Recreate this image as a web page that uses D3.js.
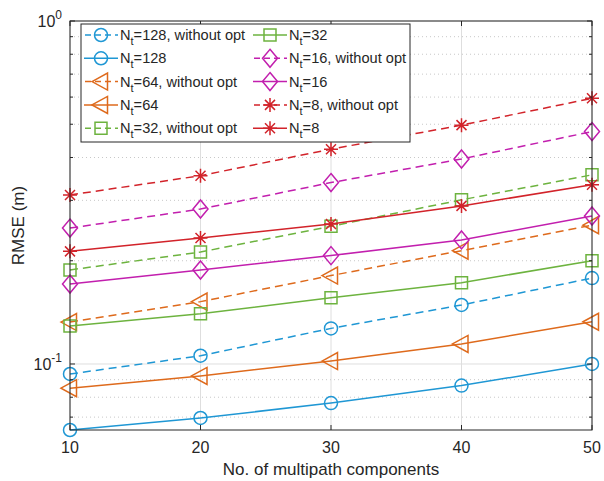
<!DOCTYPE html>
<html lang="en">
  <head>
    <meta charset="utf-8" />
    <title>RMSE vs multipath components</title>
    <script src="https://cdnjs.cloudflare.com/ajax/libs/d3/7.8.5/d3.min.js"></script>
    <style>
      body { margin: 0; background: #fff; }
      text { font-family: "Liberation Sans", Arial, Helvetica, sans-serif; fill: #262626; }
    </style>
  </head>
  <body>
    <script>
      const width = 604;
      const height = 481;
      const marginTop = 21;
      const marginRight = 12;
      const marginBottom = 51;
      const marginLeft = 70;

      // data
      const components = [10, 20, 30, 40, 50];
      const nt128NoOpt = [0.0935, 0.1057, 0.127, 0.1486, 0.178];
      const nt128 = [0.0642, 0.0696, 0.0769, 0.0865, 0.100];
      const nt64NoOpt = [0.1325, 0.152, 0.181, 0.214, 0.254];
      const nt64 = [0.085, 0.0923, 0.102, 0.1144, 0.1328];
      const nt32NoOpt = [0.188, 0.212, 0.252, 0.301, 0.356];
      const nt32 = [0.129, 0.140, 0.156, 0.1726, 0.200];
      const nt16NoOpt = [0.249, 0.283, 0.338, 0.396, 0.476];
      const nt16 = [0.171, 0.188, 0.207, 0.230, 0.270];
      const nt8NoOpt = [0.311, 0.354, 0.423, 0.497, 0.595];
      const nt8 = [0.213, 0.233, 0.256, 0.289, 0.333];

      const xTicks = [10, 20, 30, 40, 50];
      const yMajor = [0.1, 1];
      const yMinor = [0.07, 0.08, 0.09, 0.2, 0.3, 0.4, 0.5, 0.6, 0.7, 0.8, 0.9];

      const blue = "#1f97d4", orange = "#de6a1c", green = "#6db33f", magenta = "#c21fae", red = "#d2232a";

      const series = [
        { n: "128", opt: false, values: nt128NoOpt, color: blue, marker: "circle" },
        { n: "128", opt: true, values: nt128, color: blue, marker: "circle" },
        { n: "64", opt: false, values: nt64NoOpt, color: orange, marker: "triangle" },
        { n: "64", opt: true, values: nt64, color: orange, marker: "triangle" },
        { n: "32", opt: false, values: nt32NoOpt, color: green, marker: "square" },
        { n: "32", opt: true, values: nt32, color: green, marker: "square" },
        { n: "16", opt: false, values: nt16NoOpt, color: magenta, marker: "diamond" },
        { n: "16", opt: true, values: nt16, color: magenta, marker: "diamond" },
        { n: "8", opt: false, values: nt8NoOpt, color: red, marker: "star" },
        { n: "8", opt: true, values: nt8, color: red, marker: "star" }
      ];

      const x = d3.scaleLinear([10, 50], [marginLeft, width - marginRight]);
      const y = d3.scaleLog([0.0642, 1], [height - marginBottom, marginTop]);

      const svg = d3.select("body").append("svg")
        .attr("width", width)
        .attr("height", height)
        .attr("viewBox", [0, 0, width, height]);

      const x0 = marginLeft, x1 = width - marginRight, y0 = height - marginBottom, y1 = marginTop;

      // grid
      const grid = svg.append("g");
      grid.selectAll(".vg").data(xTicks).join("line")
        .attr("x1", d => x(d)).attr("x2", d => x(d))
        .attr("y1", y0).attr("y2", y1)
        .attr("stroke", "#dedede").attr("stroke-width", 1);
      grid.selectAll(".hg").data(yMajor).join("line")
        .attr("x1", x0).attr("x2", x1)
        .attr("y1", d => y(d)).attr("y2", d => y(d))
        .attr("stroke", "#dedede").attr("stroke-width", 1);
      grid.selectAll(".hm").data(yMinor).join("line")
        .attr("x1", x0).attr("x2", x1)
        .attr("y1", d => y(d)).attr("y2", d => y(d))
        .attr("stroke", "#c8c8c8").attr("stroke-width", 1)
        .attr("stroke-dasharray", "1,3");

      // marker shapes, centred on 0,0
      function markerPath(type) {
        switch (type) {
          case "circle": return "M6.5,0A6.5,6.5 0 1,1 -6.5,0A6.5,6.5 0 1,1 6.5,0Z";
          case "triangle": return "M-9,0L6.5,-8.5L6.5,8.5Z";
          case "square": return "M-6,-6H6V6H-6Z";
          case "diamond": return "M0,-9L7.5,0L0,9L-7.5,0Z";
          case "star": return "M-7,0H7M0,-7V7M-5,-5L5,5M-5,5L5,-5";
        }
      }

      const line = d3.line().x((d, i) => x(components[i])).y(d => y(d));

      const plot = svg.append("g");
      series.forEach(s => {
        plot.append("path")
          .attr("d", line(s.values))
          .attr("fill", "none")
          .attr("stroke", s.color)
          .attr("stroke-width", 1.5)
          .attr("stroke-dasharray", s.opt ? null : "8,5");
        plot.selectAll(null).data(s.values).join("path")
          .attr("transform", (d, i) => `translate(${x(components[i])},${y(d)})`)
          .attr("d", markerPath(s.marker))
          .attr("fill", "none")
          .attr("stroke", s.color)
          .attr("stroke-width", 1.5);
      });

      // frame and ticks
      const axes = svg.append("g").attr("stroke", "#262626").attr("stroke-width", 1);
      axes.append("rect")
        .attr("x", x0).attr("y", y1)
        .attr("width", x1 - x0).attr("height", y0 - y1)
        .attr("fill", "none");
      xTicks.forEach(t => {
        axes.append("line").attr("x1", x(t)).attr("x2", x(t)).attr("y1", y0).attr("y2", y0 - 5);
        axes.append("line").attr("x1", x(t)).attr("x2", x(t)).attr("y1", y1).attr("y2", y1 + 5);
      });
      yMajor.concat(yMinor).forEach(t => {
        const len = yMajor.includes(t) ? 5 : 3;
        axes.append("line").attr("x1", x0).attr("x2", x0 + len).attr("y1", y(t)).attr("y2", y(t));
        axes.append("line").attr("x1", x1).attr("x2", x1 - len).attr("y1", y(t)).attr("y2", y(t));
      });

      // tick labels
      svg.append("g").selectAll("text").data(xTicks).join("text")
        .attr("x", d => x(d)).attr("y", y0 + 23)
        .attr("text-anchor", "middle")
        .attr("font-size", 16)
        .text(d => d);

      const yLab = svg.append("g").selectAll("text").data(yMajor).join("text")
        .attr("x", x0 - 8).attr("y", d => y(d) + 6)
        .attr("text-anchor", "end")
        .attr("font-size", 16);
      yLab.append("tspan").text("10");
      yLab.append("tspan").attr("dy", -8).attr("font-size", 12).text(d => d === 1 ? "0" : "-1");

      // axis titles
      svg.append("text")
        .attr("x", (x0 + x1) / 2).attr("y", height - 6)
        .attr("text-anchor", "middle").attr("font-size", 17)
        .text("No. of multipath components");
      svg.append("text")
        .attr("transform", `translate(24,${(y0 + y1) / 2}) rotate(-90)`)
        .attr("text-anchor", "middle").attr("font-size", 17)
        .text("RMSE (m)");

      // legend
      const legend = svg.append("g");
      legend.append("rect")
        .attr("x", 81).attr("y", 24).attr("width", 329).attr("height", 118)
        .attr("fill", "#fff").attr("stroke", "#262626").attr("stroke-width", 1);
      series.forEach((s, i) => {
        const col = i < 5 ? 0 : 1;
        const row = i % 5;
        const lx = col === 0 ? 84 : 253;
        const ly = 35 + row * 23.3;
        const g = legend.append("g");
        g.append("line")
          .attr("x1", lx).attr("x2", lx + 34).attr("y1", ly).attr("y2", ly)
          .attr("stroke", s.color).attr("stroke-width", 1.5)
          .attr("stroke-dasharray", s.opt ? null : "6,4")
          .attr("stroke-dashoffset", s.opt ? null : -1);
        g.append("path")
          .attr("transform", `translate(${lx + 17},${ly})`)
          .attr("d", markerPath(s.marker))
          .attr("fill", "none").attr("stroke", s.color).attr("stroke-width", 1.5);
        const t = g.append("text")
          .attr("x", lx + 36).attr("y", ly + 5)
          .attr("font-size", 14.6)
          .attr("fill", "#000");
        t.append("tspan").text("N");
        t.append("tspan").attr("dy", 5).attr("font-size", 11).text("t");
        t.append("tspan").attr("dy", -5).text("=" + s.n + (s.opt ? "" : ", without opt"));
      });
    </script>
  </body>
</html>
